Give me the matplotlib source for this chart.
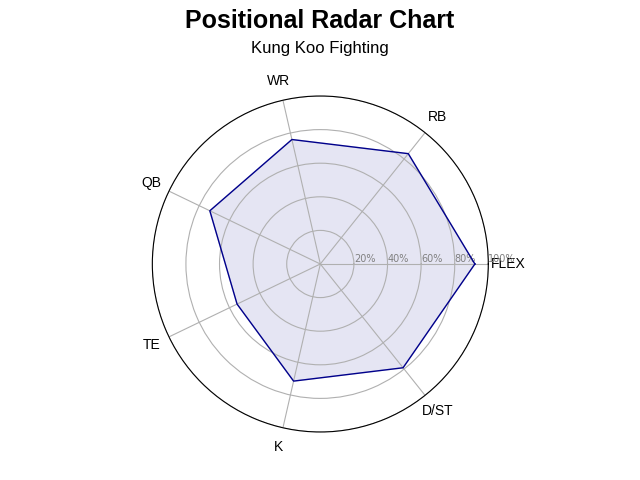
import numpy as np
import matplotlib
matplotlib.use("Agg")
import matplotlib.pyplot as plt

plt.rcParams['font.family'] = ['Liberation Sans', 'DejaVu Sans']

categories = ["FLEX", "RB", "WR", "QB", "TE", "K", "D/ST"]
values = [0.92, 0.84, 0.76, 0.73, 0.55, 0.715, 0.79]
rticks = [0.2, 0.4, 0.6, 0.8, 1.0]
rlabels = ["20%", "40%", "60%", "80%", "100%"]

n = len(categories)
angles = np.linspace(0, 2 * np.pi, n, endpoint=False).tolist()
vals = values + values[:1]
angs = angles + angles[:1]

fig = plt.figure(figsize=(6.4, 4.8), dpi=100)
ax = fig.add_axes([0.238, 0.1, 0.525, 0.7], projection='polar')
ax.plot(angs, vals, color='darkblue', linewidth=1)
ax.fill(angs, vals, color='darkblue', alpha=0.1)
ax.set_ylim(0, 1)
ax.set_xticks(angles)
ax.set_xticklabels(categories, fontsize=10)
ax.set_yticks(rticks)
ax.set_yticklabels(rlabels, fontsize=7, color='gray', family='DejaVu Sans')
ax.set_rlabel_position(0)
ax.grid(True, color='#b0b0b0', linewidth=0.8)

fig.text(0.5, 0.957, "Positional Radar Chart", ha='center', va='center', fontsize=18, fontweight='bold')
fig.text(0.5, 0.9, "Kung Koo Fighting", ha='center', va='center', fontsize=12)

fig.savefig("out.png", dpi=100)
